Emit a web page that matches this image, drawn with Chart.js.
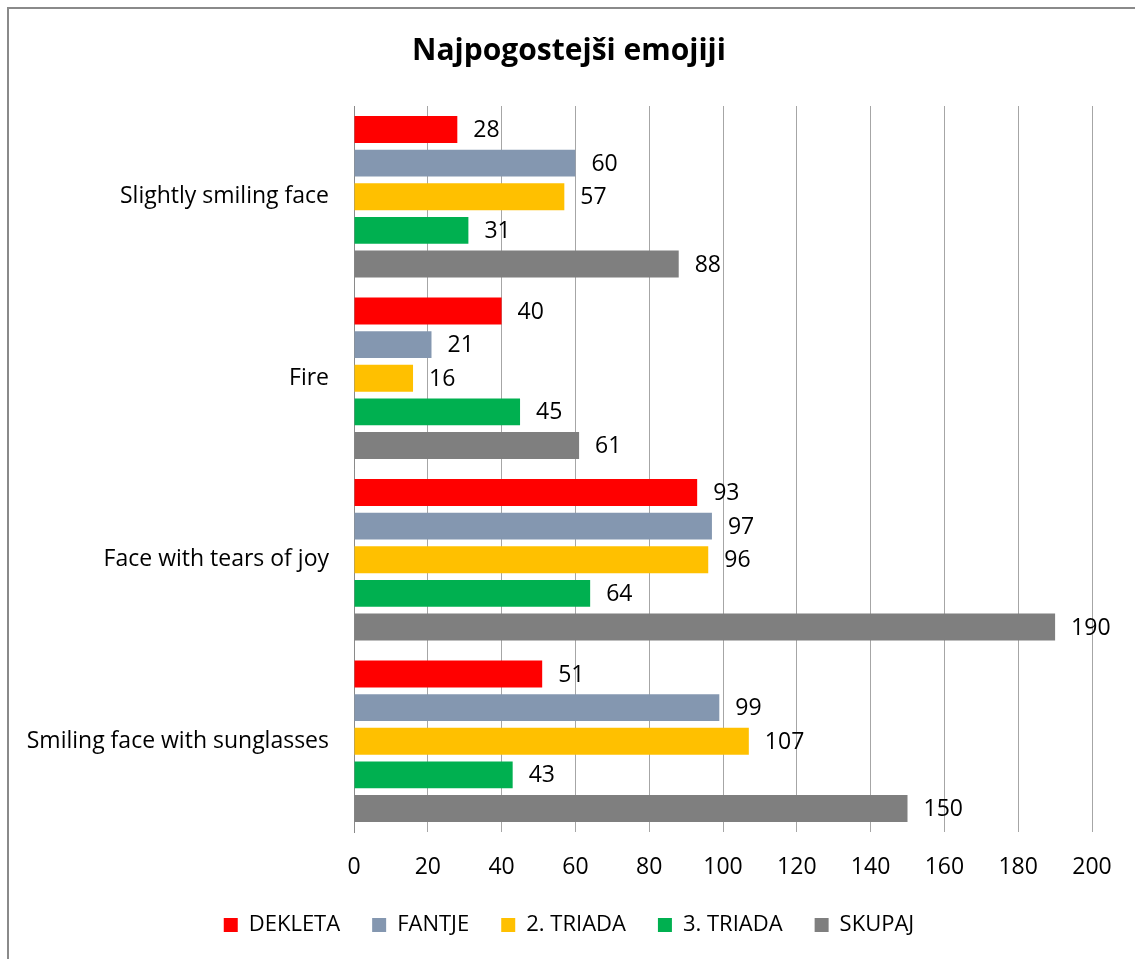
<!DOCTYPE html>
<html>
<head>
<meta charset="utf-8">
<script src="https://cdn.jsdelivr.net/npm/chart.js@4"></script>
<style>
  body { margin: 0; background: #fff; }
  #wrap { width: 1135px; height: 959px; }
</style>
</head>
<body>
<div id="wrap"><canvas id="chart"></canvas></div>
<script>
const categories = ["Slightly smiling face", "Fire", "Face with tears of joy", "Smiling face with sunglasses"];
const dekleta = [28, 40, 93, 51];
const fantje = [60, 21, 97, 99];
const triada2 = [57, 16, 96, 107];
const triada3 = [31, 45, 64, 43];
const skupaj = [88, 61, 190, 150];
const xTicks = [0, 20, 40, 60, 80, 100, 120, 140, 160, 180, 200];

const FONT = "'Open Sans', sans-serif";

// white background + the thin frame on top/left
const framePlugin = {
  id: 'frame',
  beforeDraw(chart) {
    const ctx = chart.ctx;
    ctx.save();
    ctx.fillStyle = '#fff';
    ctx.fillRect(0, 0, chart.width, chart.height);
    ctx.strokeStyle = '#8a8a8a';
    ctx.lineWidth = 2;
    ctx.beginPath();
    ctx.moveTo(8, chart.height);
    ctx.lineTo(8, 8);
    ctx.lineTo(chart.width, 8);
    ctx.stroke();
    ctx.restore();
  }
};

// value labels to the right of each bar
const valueLabels = {
  id: 'valueLabels',
  afterDatasetsDraw(chart) {
    const ctx = chart.ctx;
    ctx.save();
    ctx.font = "23px " + FONT;
    ctx.fillStyle = '#000';
    ctx.textBaseline = 'middle';
    ctx.textAlign = 'left';
    chart.data.datasets.forEach((ds, i) => {
      chart.getDatasetMeta(i).data.forEach((bar, j) => {
        ctx.fillText(ds.data[j], bar.x + 16, bar.y + 1);
      });
    });
    ctx.restore();
  }
};

const mk = (label, data, color) => ({
  label, data,
  backgroundColor: color,
  borderWidth: 0,
  categoryPercentage: 0.926,
  barPercentage: 0.8
});

new Chart(document.getElementById('chart'), {
  type: 'bar',
  data: {
    labels: categories,
    datasets: [
      mk("DEKLETA", dekleta, '#FF0000'),
      mk("FANTJE", fantje, '#8497B0'),
      mk("2. TRIADA", triada2, '#FFC000'),
      mk("3. TRIADA", triada3, '#00B050'),
      mk("SKUPAJ", skupaj, '#7F7F7F')
    ]
  },
  options: {
    indexAxis: 'y',
    responsive: true,
    maintainAspectRatio: false,
    animation: false,
    layout: { padding: { top: 0, left: 46, right: 43, bottom: 13 } },
    plugins: {
      title: {
        display: true,
        text: "Najpogostejši emojiji",
        color: '#000',
        font: { family: FONT, size: 30, weight: 'bold' },
        padding: { top: 33, bottom: 37 }
      },
      legend: {
        position: 'bottom',
        labels: {
          color: '#000',
          font: { family: FONT, size: 22 },
          boxWidth: 14,
          boxHeight: 14,
          padding: 32
        }
      },
      tooltip: { enabled: false }
    },
    scales: {
      x: {
        min: 0,
        max: 200,
        afterBuildTicks(scale) { scale.ticks = xTicks.map(v => ({ value: v })); },
        afterFit(scale) { scale.height = 50; },
        grid: { color: '#a6a6a6', drawTicks: false },
        border: { display: false },
        ticks: { color: '#000', padding: 22, font: { family: FONT, size: 23 } }
      },
      y: {
        afterFit(scale) { scale.width = 308; },
        // long category names reach past the padded edge, don't clip them
        afterUpdate(scale) { scale._computeLabelArea = () => undefined; },
        grid: { display: false, drawTicks: false },
        border: { display: true, color: '#8a8a8a', width: 1 },
        ticks: { color: '#000', padding: 25, font: { family: FONT, size: 23 } }
      }
    }
  },
  plugins: [framePlugin, valueLabels]
});
</script>
</body>
</html>
